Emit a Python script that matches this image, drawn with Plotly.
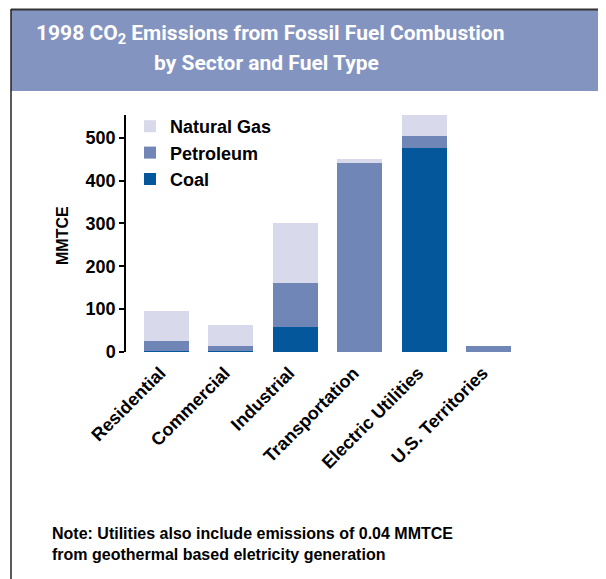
import plotly.graph_objects as go

# --- data (MMTCE) ---
sectors = ["Residential", "Commercial", "Industrial", "Transportation",
           "Electric Utilities", "U.S. Territories"]
coal = [3, 2, 58, 0, 477, 0]
petroleum = [22, 13, 102, 440, 26, 13]
natural_gas = [70, 47, 140, 10, 49, 0]

COL = {"coal": "#04579A", "pet": "#6F86B6", "gas": "#D8DAEB", "banner": "#8494C1"}
FONT = "Liberation Sans, Arial, sans-serif"
TFONT = "Roboto, Liberation Sans, sans-serif"

# page body has an 8px margin -> screen pixel p is figure pixel p-8
OFF = 8
W, H = 606 - OFF, 579 - OFF
L, R, T, B = 126 - OFF, 521 - OFF, 115 - OFF, 352 - OFF
def px(x): return (x - OFF - L) / (R - L)
def py(y): return (B - (y - OFF)) / (B - T)

fig = go.Figure()
for name, vals, col in [("Coal", coal, COL["coal"]),
                        ("Petroleum", petroleum, COL["pet"]),
                        ("Natural Gas", natural_gas, COL["gas"])]:
    fig.add_trace(go.Bar(x=sectors, y=vals, name=name, marker=dict(color=col, line_width=0),
                         legendgroup=name))

# header banner + frame lines
fig.add_shape(type="rect", xref="paper", yref="paper", x0=px(11), x1=px(620), y0=py(91), y1=py(10),
              fillcolor=COL["banner"], line_width=0, layer="below")
fig.add_shape(type="line", xref="paper", yref="paper", x0=px(11), x1=px(620), y0=py(9.5), y1=py(9.5),
              line=dict(color="#333333", width=2))
fig.add_shape(type="line", xref="paper", yref="paper", x0=px(11), x1=px(11), y0=py(9), y1=py(600),
              line=dict(color="#222222", width=1.5))

fig.add_annotation(xref="paper", yref="paper", x=px(270), y=py(35), xanchor="center", yanchor="middle",
                   showarrow=False, text="<b>1998 CO<sub>2</sub> Emissions from Fossil Fuel Combustion</b>",
                   font=dict(family=TFONT, size=21, color="white"))
fig.add_annotation(xref="paper", yref="paper", x=px(266), y=py(63), xanchor="center", yanchor="middle",
                   showarrow=False, text="<b>by Sector and Fuel Type</b>",
                   font=dict(family=TFONT, size=21, color="white"))

fig.add_annotation(xref="paper", yref="paper", x=px(62), y=py(236), xanchor="center", yanchor="middle",
                   showarrow=False, textangle=-90,
                   text="<b>MMTCE</b>", font=dict(family=FONT, size=16, color="black"))

fig.add_annotation(xref="paper", yref="paper", x=px(50), y=py(544), xanchor="left", yanchor="middle",
                   showarrow=False, align="left",
                   text="<b>Note: Utilities also include emissions of 0.04 MMTCE<br>from geothermal based eletricity generation</b>",
                   font=dict(family=FONT, size=16, color="black"))

fig.update_layout(
    width=W, height=H, barmode="stack", bargap=0.3,
    margin=dict(l=L, r=W - R, t=T, b=H - B),
    plot_bgcolor="white", paper_bgcolor="white",
    font=dict(family=FONT, color="black"),
    legend=dict(x=px(130), y=py(108), xanchor="left", yanchor="top", traceorder="reversed",
                tracegroupgap=6, bgcolor="rgba(0,0,0,0)",
                font=dict(family=FONT, size=18, color="black", weight="bold")),
    xaxis=dict(range=[-0.625, 5.5], showline=False, ticks="", tickangle=-45,
               ticklabelstandoff=6, ticklabelshift=-6,
               tickfont=dict(family=FONT, size=18, color="black", weight="bold")),
    yaxis=dict(range=[0, 553], showline=True, linecolor="black", linewidth=1.5, showgrid=False,
               zeroline=False, ticks="outside", ticklen=5, tickcolor="black", tickwidth=1.5,
               tickvals=[0, 100, 200, 300, 400, 500],
               tickfont=dict(family=FONT, size=18, color="black", weight="bold")),
)

fig.write_html("out.html")
